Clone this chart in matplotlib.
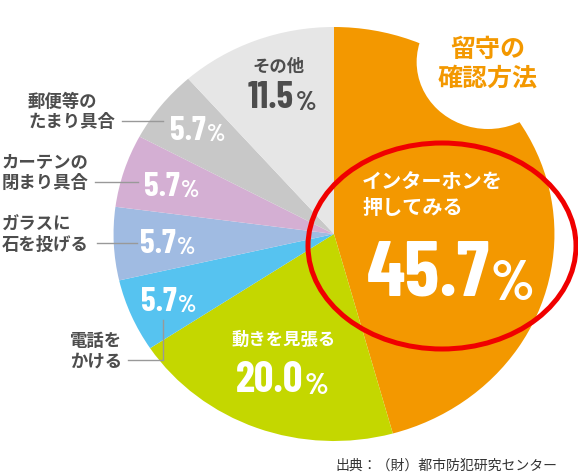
import matplotlib
matplotlib.use("Agg")
import matplotlib.pyplot as plt
from matplotlib.patches import Ellipse

# ---------------- data ----------------
categories = ["インターホンを\n押してみる", "動きを見張る", "電話を\nかける",
              "ガラスに\n石を投げる", "カーテンの\n閉まり具合", "郵便等の\nたまり具合", "その他"]
values = [45.7, 20.0, 5.7, 5.7, 5.7, 5.7, 11.5]
value_labels = ["45.7", "20.0", "5.7", "5.7", "5.7", "5.7", "11.5"]
title_text = "留守の\n確認方法"
source_text = "出典：（財）都市防犯研究センター"

colors = ["#F39800", "#C4D700", "#56C3F0", "#A0BBE2", "#D4AFD3", "#C8C8C8", "#E6E6E6"]

# ---------------- layout (pixel coords) ----------------
W, H = 578, 474
SX = 1.065            # horizontal stretch of the original picture
CJK = ["Noto Sans CJK JP", "DejaVu Sans"]
NUM = ["Barlow Condensed", "DejaVu Sans"]

def P(x, y):
    return (x / SX, H - y)

fig = plt.figure(figsize=(W / 100, H / 100), dpi=100)
ax = fig.add_axes([0, 0, 1, 1])

wedges, _ = ax.pie(values, colors=colors, startangle=90, counterclock=False,
                   center=P(334, 234), radius=207,
                   wedgeprops=dict(linewidth=0))
ax.set_aspect("auto")
ax.set_xlim(0, W / SX)
ax.set_ylim(0, H)
ax.axis("off")

# white cut-out circle with the title
ax.add_patch(Ellipse(P(488, 62), 134, 134, facecolor="white", edgecolor="none", zorder=3))
ax.text(*P(488, 64), title_text, ha="center", va="center", fontsize=18, fontweight="bold",
        color="#F39800", family=CJK, linespacing=1.25, zorder=4)

# red highlight ellipse
ax.add_patch(Ellipse(P(442, 246), 268 / SX, 206, facecolor="none", edgecolor="#F00000",
                     linewidth=3.6, zorder=5))

DARK = "#4D4D4D"

def value_text(x, y, num, size, color):
    t = ax.text(*P(x, y), num, ha="center", va="baseline", fontsize=size,
                fontweight="bold", color=color, family=NUM, zorder=6)
    ax.annotate("%", xy=(1.0, 0.0), xycoords=t, xytext=(1.0, 0), textcoords="offset points",
                ha="left", va="bottom", fontsize=size * 0.72, fontweight="bold",
                color=color, family=NUM, zorder=6)

# numbers
num_layout = [  # (x center of digits, baseline y, size, color)
    (428, 295, 57, "white"),
    (270, 392, 31, "white"),
    (159, 311, 24, "white"),
    (158, 253, 24, "white"),
    (162, 196, 24, "white"),
    (188, 140, 24, "white"),
    (271, 108, 27, DARK),
]
for lab, (x, y, s, c) in zip(value_labels, num_layout):
    value_text(x, y, lab, s, c)

# category labels
cat_layout = [  # (x, y, ha, color, size)
    (362, 195, "left", "white", 14.5),
    (284, 340, "center", "white", 12.5),
    (70, 351, "left", DARK, 12.5),
    (2, 235, "left", DARK, 12.5),
    (2, 173, "left", DARK, 12.5),
    (28, 112, "left", DARK, 12.5),
    (279, 67, "center", DARK, 12.5),
]
for lab, (x, y, ha, c, s) in zip(categories, cat_layout):
    ax.text(*P(x, y), lab, ha=ha, va="center", fontsize=s, fontweight="bold",
            color=c, family=CJK, linespacing=1.2, zorder=6)

# leader lines
leaders = [
    [(122, 121), (163, 121)],
    [(95, 182), (138, 182)],
    [(97, 243), (137, 243)],
    [(128, 360), (163, 360), (163, 320)],
]
for pts in leaders:
    xs, ys = zip(*[P(px, py) for px, py in pts])
    ax.plot(xs, ys, color="#999999", linewidth=1.0, zorder=6)

# source
ax.text(*P(557, 466), source_text, ha="right", va="center", fontsize=10,
        color="#333333", family=CJK)

fig.savefig("out.png", dpi=100)
